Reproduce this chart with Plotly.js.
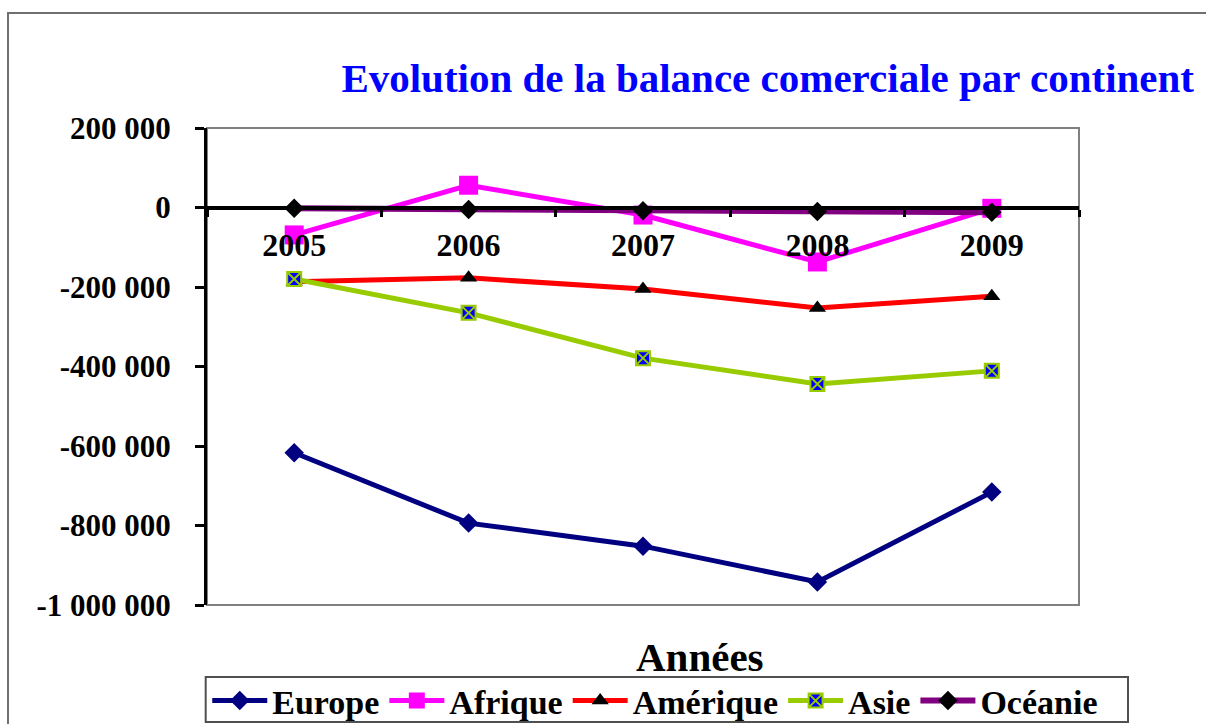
<!DOCTYPE html>
<html>
<head>
<meta charset="utf-8">
<script src="https://cdn.plot.ly/plotly-3.0.1.min.js"></script>
<style>html,body{margin:0;padding:0;background:#fff;}#chart{width:1206px;height:724px;}</style>
</head>
<body>
<div id="chart"></div>
<script>
const years = ['2005', '2006', '2007', '2008', '2009'];
const europe = [-617000, -794000, -852000, -942000, -716000];
const afrique = [-69000, 56000, -19000, -137000, -2000];
const amerique = [-187000, -177000, -205000, -253000, -223000];
const asie = [-180000, -265000, -379000, -444000, -411000];
const oceanie = [-2000, -5000, -8000, -10000, -12000];
const yTickVals = [200000, 0, -200000, -400000, -600000, -800000, -1000000];
const yTickText = ['200 000', '0', '-200 000', '-400 000', '-600 000', '-800 000', '-1 000 000'];

const FONT = 'Liberation Serif';

const traces = [
  {name: 'Europe', y: europe, line: {color: '#000080', width: 5}, marker: {symbol: 'diamond', size: 15, color: '#000080'}},
  {name: 'Afrique', y: afrique, line: {color: '#FF00FF', width: 5}, marker: {symbol: 'square', size: 19, color: '#FF00FF'}},
  {name: 'Amérique', y: amerique, line: {color: '#FF0000', width: 5}, marker: {symbol: 'triangle-up', size: 15, color: '#000000'}},
  {name: 'Asie', y: asie, line: {color: '#99CC00', width: 5}, marker: {symbol: 'square-x', size: 14, color: '#0000FF', line: {color: '#99CC00', width: 2}}},
  {name: 'Océanie', y: oceanie, line: {color: '#800080', width: 6}, marker: {symbol: 'diamond', size: 15, color: '#000000'}}
].map(t => Object.assign({type: 'scatter', mode: 'lines+markers', x: years, cliponaxis: false}, t));

const layout = {
  width: 1206, height: 724,
  margin: {l: 207, r: 127, t: 128, b: 119, autoexpand: false},
  paper_bgcolor: '#ffffff', plot_bgcolor: '#ffffff',
  font: {family: FONT, color: '#000000', weight: 'bold'},
  showlegend: true,
  title: {
    text: 'Evolution de la balance comerciale par continent',
    font: {family: FONT, size: 41, color: '#0000FF', weight: 'bold'},
    xref: 'paper', x: 0.643, xanchor: 'center',
    yref: 'container', y: 1 - 78/724, yanchor: 'middle'
  },
  xaxis: {
    type: 'category', range: [-0.5, 4.5],
    anchor: 'free', position: 1000000/1200000,
    showline: true, linecolor: '#000000', linewidth: 4,
    ticks: 'outside', tickson: 'boundaries', ticklen: 7, tickwidth: 3, tickcolor: '#000000',
    tickfont: {family: FONT, size: 32, color: '#000000', weight: 'bold'},
    ticklabelstandoff: 8,
    showgrid: false, zeroline: false, fixedrange: true
  },
  yaxis: {
    range: [-1000000, 200000],
    tickvals: yTickVals, ticktext: yTickText,
    showline: true, linecolor: '#000000', linewidth: 3, mirror: false,
    ticks: 'outside', ticklen: 9, tickwidth: 3, tickcolor: '#000000',
    tickfont: {family: FONT, size: 31, color: '#000000', weight: 'bold'},
    ticklabelstandoff: 18,
    showgrid: false, zeroline: false, fixedrange: true
  },
  legend: {
    orientation: 'h', x: -0.002, xanchor: 'left', y: -0.1363, yanchor: 'top',
    bgcolor: 'rgba(0,0,0,0)', bordercolor: 'rgba(0,0,0,0)', borderwidth: 2,
    font: {family: FONT, size: 34, color: '#000000', weight: 'bold'},
    itemwidth: 55, tracegroupgap: 0
  },
  shapes: [
    {type: 'rect', xref: 'paper', yref: 'paper', x0: 0, x1: 1, y0: 0, y1: 1, line: {color: '#808080', width: 2}, layer: 'below'},
    {type: 'rect', xref: 'paper', yref: 'paper', x0: -0.2282, x1: 1.16, y0: -0.27, y1: 1.2411, line: {color: '#707070', width: 2}, layer: 'below'},
    {type: 'rect', xref: 'paper', yref: 'paper', x0: -0.0015, x1: 1.0562, y0: -0.2453, y1: -0.1509, line: {color: '#505050', width: 2}, fillcolor: '#ffffff', layer: 'below'}
  ],
  annotations: [
    {text: 'Années', xref: 'paper', yref: 'paper', x: 0.565, y: (605-657)/477, xanchor: 'center', yanchor: 'middle', showarrow: false, font: {family: FONT, size: 41, color: '#000000', weight: 'bold'}}
  ]
};

Plotly.newPlot('chart', traces, layout, {displayModeBar: false, staticPlot: true});
</script>
</body>
</html>
